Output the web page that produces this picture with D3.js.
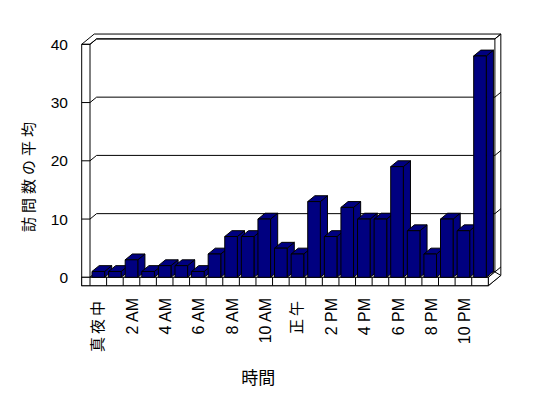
<!DOCTYPE html>
<html>
<head>
<meta charset="utf-8">
<style>
  body { margin: 0; background: #fff; }
  text { font-family: "Liberation Sans", Arial, "Noto Sans CJK JP", sans-serif; fill: #000; }
  .jp { font-family: "Noto Sans CJK JP", "Liberation Sans", sans-serif; }
</style>
</head>
<body>
<div id="container"></div>
<script src="https://cdn.jsdelivr.net/npm/d3@7"></script>
<script>
    // Data
    let hours = ["真夜中", "1 AM", "2 AM", "3 AM", "4 AM", "5 AM", "6 AM", "7 AM", "8 AM", "9 AM", "10 AM", "11 AM",
                 "正午", "1 PM", "2 PM", "3 PM", "4 PM", "5 PM", "6 PM", "7 PM", "8 PM", "9 PM", "10 PM", "11 PM"];
    let visits = [1, 1, 3, 1, 2, 2, 1, 4, 7, 7, 10, 5, 4, 13, 7, 12, 10, 10, 19, 8, 4, 10, 8, 38];
    let yTicks = [0, 10, 20, 30, 40];
    let xTitle = "時間";
    let yTitle = "訪問数の平均";

    let width = 548, height = 398;
    let navy = "#000080";

    let svg = d3.select("#container")
        .append("svg")
        .attr("width", width)
        .attr("height", height);

    // Scales (front plane)
    let x = d3.scaleBand()
        .domain(hours)
        .range([90, 488.3])
        .paddingInner(0.24)
        .paddingOuter(0.12);
    let y = d3.scaleLinear()
        .domain([0, 40])
        .range([277.3, 44.3]);

    // oblique depth
    let DX = 6.6, DY = 5.4;
    let P = (px, py, z) => [px + z * DX, py - z * DY];
    let poly = (pts) => "M" + pts.map(p => p.join(",")).join("L") + "Z";
    let line = (a, b) => svg.append("line")
        .attr("x1", a[0]).attr("y1", a[1]).attr("x2", b[0]).attr("y2", b[1])
        .attr("stroke", "#000").attr("stroke-width", 1);

    let x0 = 90, x1 = 488.3, wallL = 81.7;
    let yTop = y(40), yFloor = y(0), floorBottom = 285.7;
    let zOut = 1.9;

    // Walls (outer outline)
    svg.append("path")
        .attr("d", poly([
            [wallL, yTop], P(wallL, yTop, zOut), P(x1, yTop, zOut), P(x1, floorBottom, zOut),
            [x1, floorBottom], [wallL, floorBottom]
        ]))
        .attr("fill", "#fff")
        .attr("stroke", "#000");

    // Inner wall edges
    line([wallL, yTop], [x0, yTop]);
    line([x0, yTop], [x0, yFloor]);
    line([x0, yTop], P(x0, yTop, 1));
    line(P(x0, yTop, 1), P(x1, yTop, 1));
    line(P(x1, yTop, 1), P(x1, yTop, zOut));
    line(P(x1, yTop, 1), P(x1, yFloor, 1));

    // Gridlines
    yTicks.forEach(t => {
        let yy = y(t);
        line([wallL, yy], [x0, yy]);
        line([x0, yy], P(x0, yy, 1));
        line(P(x0, yy, 1), P(x1, yy, 1));
        line(P(x1, yy, 1), P(x1, yy, zOut));
    });

    // Floor
    svg.append("path")
        .attr("d", poly([[x0, yFloor], [x1, yFloor], P(x1, yFloor, 1), P(x0, yFloor, 1)]))
        .attr("fill", "#fff").attr("stroke", "#000");
    svg.append("path")
        .attr("d", poly([[x1, yFloor], P(x1, yFloor, 1), P(x1, floorBottom, zOut), [x1, floorBottom]]))
        .attr("fill", "#fff").attr("stroke", "#000");
    svg.append("rect")
        .attr("x", wallL).attr("y", yFloor)
        .attr("width", x1 - wallL).attr("height", floorBottom - yFloor)
        .attr("fill", "#fff").attr("stroke", "#000");
    hours.forEach((h, i) => {
        let xx = x0 + i * x.step();
        line([xx, yFloor], [xx, floorBottom]);
    });

    // Bars
    let bz = 1.08;
    let bars = svg.append("g")
        .selectAll("g")
        .data(hours.map((h, i) => ({ h, v: visits[i] })))
        .enter()
        .append("g")
        .attr("fill", navy)
        .attr("stroke", "#000")
        .attr("stroke-width", 1)
        .attr("stroke-linejoin", "round");

    bars.append("path")
        .attr("d", d => {
            let xl = x(d.h) + x.bandwidth(), yt = y(d.v);
            return poly([[xl, yt], P(xl, yt, bz), P(xl, yFloor, bz), [xl, yFloor]]);
        });
    bars.append("path")
        .attr("d", d => {
            let xl = x(d.h), xr = xl + x.bandwidth(), yt = y(d.v);
            return poly([[xl, yt], [xr, yt], P(xr, yt, bz), P(xl, yt, bz)]);
        });
    bars.append("rect")
        .attr("x", d => x(d.h))
        .attr("y", d => y(d.v))
        .attr("width", x.bandwidth())
        .attr("height", d => yFloor - y(d.v));

    // Y tick labels
    svg.append("g")
        .selectAll("text")
        .data(yTicks)
        .enter()
        .append("text")
        .attr("x", 68)
        .attr("y", d => y(d))
        .attr("text-anchor", "end")
        .attr("dominant-baseline", "central")
        .attr("font-size", 15.5)
        .text(d => d);

    // X labels (every other hour)
    let isJp = (s) => /[^\x00-\x7f]/.test(s);
    svg.append("g")
        .selectAll("text")
        .data(hours.filter((h, i) => i % 2 === 0))
        .enter()
        .append("text")
        .attr("class", d => isJp(d) ? "jp" : null)
        .attr("transform", d => `translate(${x(d) + x.bandwidth() / 2 + (isJp(d) ? -1.5 : 1)}, 298) rotate(-90)`)
        .attr("text-anchor", "end")
        .attr("dominant-baseline", "central")
        .attr("font-size", d => isJp(d) ? 15 : 16)
        .attr("letter-spacing", d => isJp(d) ? 3 : 0)
        .text(d => d);

    // Axis titles
    svg.append("text")
        .attr("class", "jp")
        .attr("x", 258.3)
        .attr("y", 376)
        .attr("text-anchor", "middle")
        .attr("dominant-baseline", "central")
        .attr("font-size", 17)
        .text(xTitle);

    svg.append("text")
        .attr("class", "jp")
        .attr("transform", "translate(27, 175) rotate(-90)")
        .attr("text-anchor", "middle")
        .attr("dominant-baseline", "central")
        .attr("font-size", 15)
        .attr("letter-spacing", 4)
        .text(yTitle);
</script>
</body>
</html>
